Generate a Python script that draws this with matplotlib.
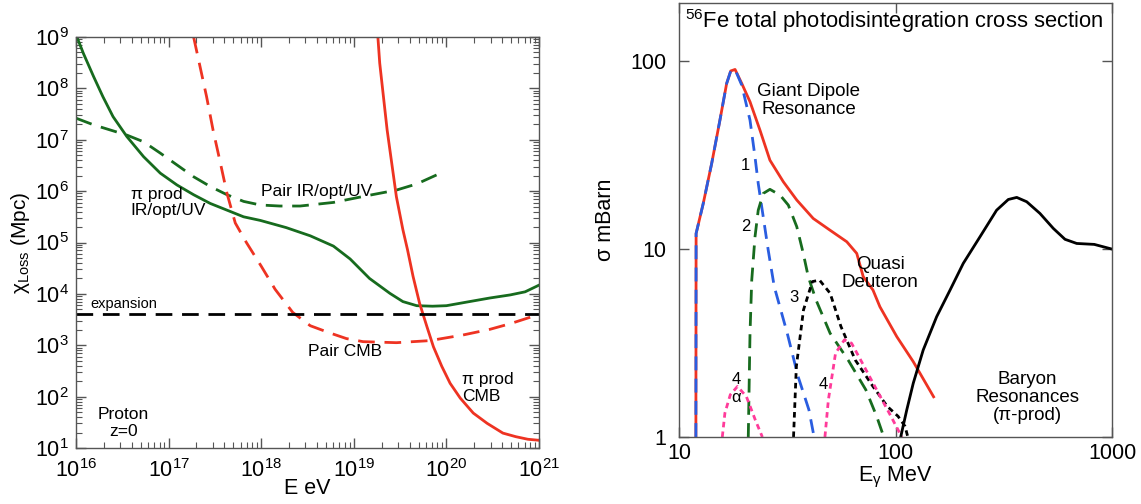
import numpy as np
import matplotlib
matplotlib.use("Agg")
import matplotlib.pyplot as plt
from matplotlib.ticker import LogLocator, NullLocator, FixedLocator, FixedFormatter

plt.rcParams['font.family'] = ['Liberation Sans', 'DejaVu Sans']
plt.rcParams['mathtext.fontset'] = 'custom'
plt.rcParams['mathtext.rm'] = 'Liberation Sans'
plt.rcParams['mathtext.it'] = 'Liberation Sans:italic'
plt.rcParams['mathtext.default'] = 'regular'

# ---------------- Left panel data (log10 E [eV], log10 chi [Mpc]) ----------------
pi_ir_logE = [16.01, 16.08, 16.19, 16.29, 16.40, 16.55, 16.73, 16.91, 17.09, 17.27, 17.45,
              17.63, 17.81, 17.99, 18.27, 18.53, 18.78, 18.96, 19.17, 19.39, 19.53, 19.68,
              19.85, 20.0, 20.25, 20.47, 20.69, 20.85, 21.0]
pi_ir_logX = [9.0, 8.68, 8.23, 7.84, 7.45, 7.06, 6.67, 6.35, 6.12, 5.93, 5.76,
              5.63, 5.50, 5.43, 5.29, 5.13, 4.93, 4.68, 4.30, 4.01, 3.85, 3.77,
              3.76, 3.77, 3.85, 3.92, 3.98, 4.04, 4.17]

pair_ir_logE = [16.0, 16.19, 16.37, 16.55, 16.73, 16.91, 17.09, 17.27, 17.45, 17.63, 17.81,
                17.99, 18.2, 18.42, 18.78, 19.14, 19.46, 19.68, 19.90]
pair_ir_logX = [7.42, 7.29, 7.19, 7.09, 6.96, 6.74, 6.51, 6.28, 6.09, 5.93, 5.80,
                5.73, 5.71, 5.71, 5.78, 5.91, 6.02, 6.14, 6.32]

pair_cmb_logE = [17.27, 17.34, 17.41, 17.48, 17.56, 17.63, 17.72, 17.84, 18.0, 18.15, 18.34,
                 18.53, 18.74, 18.92, 19.10, 19.46, 19.82, 20.18, 20.47, 20.69, 21.0]
pair_cmb_logX = [9.0, 8.42, 7.84, 7.19, 6.54, 5.96, 5.38, 5.0, 4.54, 4.09, 3.64,
                 3.38, 3.24, 3.13, 3.07, 3.05, 3.09, 3.20, 3.31, 3.42, 3.60]

pi_cmb_logE = [19.26, 19.28, 19.32, 19.36, 19.41, 19.46, 19.53, 19.58, 19.64, 19.71, 19.79,
               19.86, 19.95, 20.04, 20.15, 20.29, 20.44, 20.61, 20.75, 20.88, 21.0]
pi_cmb_logX = [9.0, 8.49, 7.84, 7.19, 6.54, 5.89, 5.25, 4.86, 4.34, 3.82, 3.36,
               2.97, 2.59, 2.26, 1.97, 1.68, 1.48, 1.29, 1.22, 1.17, 1.15]

expansion_chi = 4.1e3

# ---------------- Right panel data (log10 E_gamma [MeV], log10 sigma [mb]) ----------------
total_logE = [1.078, 1.079, 1.112, 1.151, 1.189, 1.220, 1.239, 1.259, 1.290, 1.328, 1.374,
              1.420, 1.482, 1.544, 1.620, 1.697, 1.775, 1.821, 1.851, 1.896, 1.928, 2.006,
              2.082, 2.176]
total_logS = [0.0, 1.083, 1.243, 1.456, 1.686, 1.881, 1.948, 1.956, 1.881, 1.784, 1.633,
              1.473, 1.358, 1.261, 1.163, 1.101, 1.039, 0.977, 0.853, 0.782, 0.693, 0.534,
              0.401, 0.214]

ch1_logE = [1.078, 1.079, 1.112, 1.151, 1.189, 1.220, 1.239, 1.259, 1.290, 1.328, 1.351,
            1.366, 1.389, 1.412, 1.44, 1.50, 1.55, 1.60, 1.624]
ch1_logS = [0.0, 1.083, 1.243, 1.456, 1.686, 1.881, 1.948, 1.956, 1.872, 1.686, 1.491,
            1.349, 1.172, 0.995, 0.80, 0.552, 0.322, 0.145, 0.0]

ch2_logE = [1.32, 1.328, 1.336, 1.351, 1.366, 1.389, 1.420, 1.467, 1.505, 1.544, 1.574,
            1.597, 1.633, 1.698, 1.781, 1.863, 1.913, 1.946]
ch2_logS = [0.0, 0.552, 0.835, 1.065, 1.207, 1.296, 1.318, 1.287, 1.234, 1.119, 0.977,
            0.853, 0.729, 0.552, 0.41, 0.251, 0.11, 0.0]

ch3_logE = [1.529, 1.542, 1.575, 1.616, 1.649, 1.698, 1.748, 1.814, 1.896, 1.962, 2.012, 2.044, 2.057]
ch3_logS = [0.0, 0.375, 0.676, 0.827, 0.835, 0.765, 0.588, 0.41, 0.269, 0.163, 0.11, 0.057, 0.0]

ch4a_logE = [1.2, 1.212, 1.237, 1.27, 1.311, 1.352, 1.385]
ch4a_logS = [0.0, 0.127, 0.225, 0.269, 0.216, 0.092, 0.0]

ch4b_logE = [1.674, 1.69, 1.723, 1.764, 1.797, 1.847, 1.913, 1.979, 2.02, 2.03]
ch4b_logS = [0.0, 0.198, 0.446, 0.517, 0.499, 0.393, 0.251, 0.11, 0.02, 0.0]

baryon_logE = [2.024, 2.052, 2.082, 2.128, 2.190, 2.252, 2.313, 2.390, 2.467, 2.521, 2.560,
               2.606, 2.667, 2.729, 2.783, 2.837, 2.918, 3.0]
baryon_logS = [0.0, 0.144, 0.286, 0.463, 0.640, 0.782, 0.924, 1.065, 1.207, 1.264, 1.275,
               1.252, 1.190, 1.110, 1.052, 1.030, 1.025, 1.0]

GREEN = '#176b1e'
RED = '#ee3322'
BLUE = '#2a5de0'
PINK = '#ff3b9a'
SPINE = '#555555'


def p(a):
    return 10.0 ** np.asarray(a)


fig = plt.figure(figsize=(11.41, 5.04), dpi=100)
W, H = 1141.0, 504.0

# ---------------- Left axes ----------------
ax1 = fig.add_axes([76 / W, 1 - 448 / H, (539 - 76) / W, (448 - 37) / H])
ax1.set_xscale('log'); ax1.set_yscale('log')
ax1.set_xlim(1e16, 1e21); ax1.set_ylim(1e1, 1e9)

lw = 2.0
ax1.plot(p(pi_ir_logE), p(pi_ir_logX), color=GREEN, lw=lw)
ax1.plot(p(pair_ir_logE), p(pair_ir_logX), color=GREEN, lw=lw, dashes=(6, 3.5))
ax1.plot(p(pair_cmb_logE), p(pair_cmb_logX), color=RED, lw=lw, dashes=(6, 3.5))
ax1.plot(p(pi_cmb_logE), p(pi_cmb_logX), color=RED, lw=lw)
ax1.axhline(expansion_chi, color='black', lw=lw, dashes=(6, 3.5))

fs = 12.5
ls = 1.15
ax1.text(p(16.59), p(5.78), 'π prod\nIR/opt/UV', fontsize=fs, va='center', ha='left', linespacing=ls)
ax1.text(p(18.0), p(6.0), 'Pair IR/opt/UV', fontsize=fs, va='center', ha='left')
ax1.text(p(16.15), p(3.81), 'expansion', fontsize=10.5, va='center', ha='left')
ax1.text(p(18.50), p(2.87), 'Pair CMB', fontsize=fs, va='center', ha='left')
ax1.text(p(20.17), p(2.17), 'π prod\nCMB', fontsize=fs, va='center', ha='left', linespacing=ls)
ax1.text(p(16.51), p(1.49), 'Proton\nz=0', fontsize=fs, va='center', ha='center', linespacing=ls)

ax1.xaxis.set_major_locator(FixedLocator([1e16, 1e17, 1e18, 1e19, 1e20, 1e21]))
ax1.xaxis.set_major_formatter(FixedFormatter([r'$10^{16}$', r'$10^{17}$', r'$10^{18}$',
                                              r'$10^{19}$', r'$10^{20}$', r'$10^{21}$']))
ax1.yaxis.set_major_locator(FixedLocator([10.0 ** k for k in range(1, 10)]))
ax1.yaxis.set_major_formatter(FixedFormatter([r'$10^{%d}$' % k for k in range(1, 10)]))
ax1.xaxis.set_minor_locator(LogLocator(base=10, subs=np.arange(2, 10), numticks=20))
ax1.yaxis.set_minor_locator(LogLocator(base=10, subs=np.arange(2, 10), numticks=20))
ax1.tick_params(which='both', direction='in', top=True, right=True, color=SPINE)
ax1.tick_params(which='major', length=7, width=1, labelsize=15.5)
ax1.tick_params(axis='y', which='major', pad=5)
ax1.tick_params(axis='x', which='major', pad=8)
ax1.tick_params(which='minor', length=4, width=0.8)
ax1.set_xlabel('E eV', fontsize=15.5, labelpad=-3)
ax1.set_ylabel(r'$\chi_{Loss}$ (Mpc)', fontsize=15, labelpad=2)
for s in ax1.spines.values():
    s.set_color(SPINE); s.set_linewidth(1.0)

# ---------------- Right axes ----------------
ax2 = fig.add_axes([679 / W, 1 - 437 / H, (1112 - 679) / W, (437 - 3) / H])
ax2.set_xscale('log'); ax2.set_yscale('log')
ax2.set_xlim(10, 1000); ax2.set_ylim(1, 204)

ax2.plot(p(total_logE), p(total_logS), color=RED, lw=lw)
ax2.plot(p(ch1_logE), p(ch1_logS), color=BLUE, lw=lw, dashes=(5, 3))
ax2.plot(p(ch2_logE), p(ch2_logS), color=GREEN, lw=lw, dashes=(5, 3))
ax2.plot(p(ch3_logE), p(ch3_logS), color='black', lw=lw, dashes=(2, 1.5))
ax2.plot(p(ch4a_logE), p(ch4a_logS), color=PINK, lw=lw, dashes=(2, 1.5))
ax2.plot(p(ch4b_logE), p(ch4b_logS), color=PINK, lw=lw, dashes=(2, 1.5))
ax2.plot(p(baryon_logE), p(baryon_logS), color='black', lw=lw)

fr = 13.5
ax2.text(p(1.03), p(2.215), r'$^{56}$Fe total photodisintegration cross section',
         fontsize=15.8, va='center', ha='left')
ax2.text(p(1.60), p(1.79), 'Giant Dipole\nResonance', fontsize=fr, va='center', ha='center',
         linespacing=1.05)
ax2.text(p(1.93), p(0.87), 'Quasi\nDeuteron', fontsize=fr, va='center', ha='center',
         linespacing=1.05)
ax2.text(p(2.61), p(0.21), 'Baryon\nResonances\n(π-prod)', fontsize=fr, va='center',
         ha='center', linespacing=1.05)
ax2.text(p(1.308), p(1.446), '1', fontsize=12, va='center', ha='center')
ax2.text(p(1.308), p(1.12), '2', fontsize=12, va='center', ha='center')
ax2.text(p(1.529), p(0.74), '3', fontsize=12, va='center', ha='center')
ax2.text(p(1.265), p(0.304), '4', fontsize=12, va='center', ha='center')
ax2.text(p(1.265), p(0.21), 'α', fontsize=12, va='center', ha='center')
ax2.text(p(1.666), p(0.278), '4', fontsize=12, va='center', ha='center')

ax2.xaxis.set_major_locator(FixedLocator([10, 100, 1000]))
ax2.xaxis.set_major_formatter(FixedFormatter(['10', '100', '1000']))
ax2.yaxis.set_major_locator(FixedLocator([1, 10, 100]))
ax2.yaxis.set_major_formatter(FixedFormatter(['1', '10', '100']))
ax2.xaxis.set_minor_locator(NullLocator())
ax2.yaxis.set_minor_locator(NullLocator())
ax2.tick_params(which='major', direction='in', top=True, right=True, length=7, width=1,
                color=SPINE, labelsize=15.5)
ax2.tick_params(axis='y', pad=9)
ax2.tick_params(axis='x', pad=4)
ax2.set_xlabel(r'E$_\gamma$ MeV', fontsize=15.5, labelpad=1)
ax2.set_ylabel('σ mBarn', fontsize=15.5, labelpad=10)
for s in ax2.spines.values():
    s.set_color(SPINE); s.set_linewidth(1.0)

fig.savefig('out.png', dpi=100)
